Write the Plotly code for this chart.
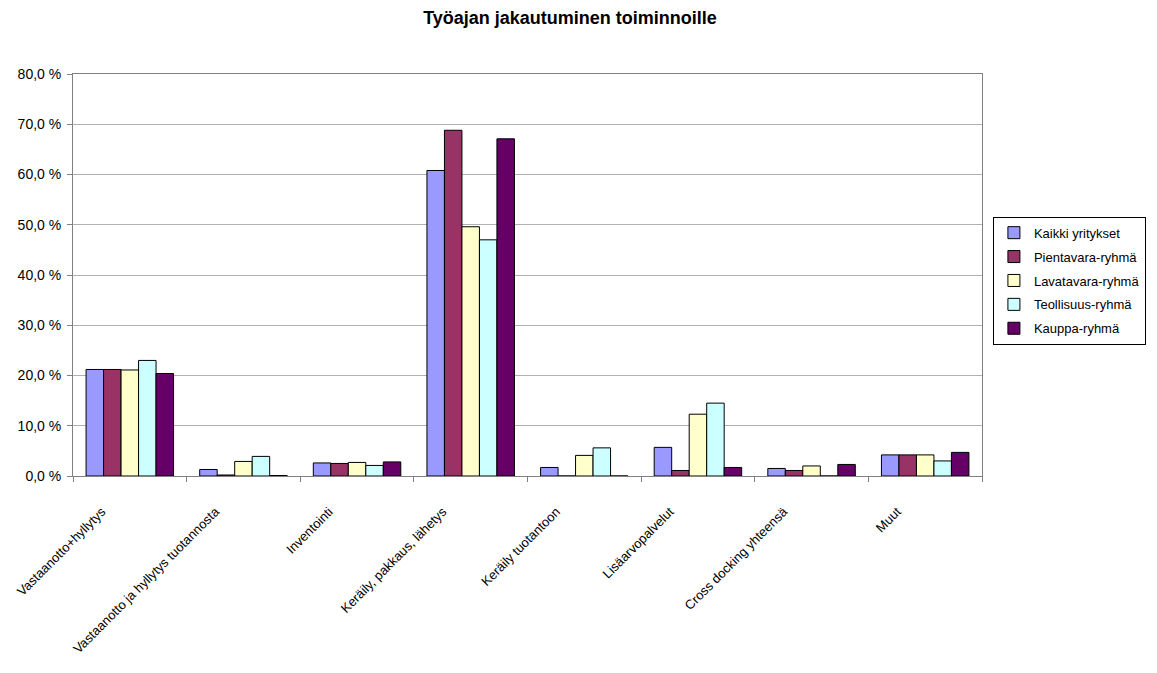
import plotly.graph_objects as go

# Toiminnot (x-akselin luokat)
categories = [
    "Vastaanotto+hyllytys",
    "Vastaanotto ja hyllytys tuotannosta",
    "Inventointi",
    "Keräily, pakkaus, lähetys",
    "Keräily tuotantoon",
    "Lisäarvopalvelut",
    "Cross docking yhteensä",
    "Muut",
]

# Osuus työajasta (%) ryhmittäin
kaikki_yritykset = [21.2, 1.3, 2.6, 60.8, 1.7, 5.7, 1.5, 4.2]
pientavara_ryhma = [21.2, 0.2, 2.5, 68.8, 0.0, 1.1, 1.1, 4.2]
lavatavara_ryhma = [21.1, 2.9, 2.7, 49.6, 4.1, 12.3, 2.0, 4.2]
teollisuus_ryhma = [23.0, 3.9, 2.1, 47.0, 5.6, 14.5, 0.0, 3.0]
kauppa_ryhma = [20.4, 0.1, 2.8, 67.1, 0.0, 1.7, 2.3, 4.7]

series_names = ["Kaikki yritykset", "Pientavara-ryhmä", "Lavatavara-ryhmä",
                "Teollisuus-ryhmä", "Kauppa-ryhmä"]
series_values = [kaikki_yritykset, pientavara_ryhma, lavatavara_ryhma,
                 teollisuus_ryhma, kauppa_ryhma]
series_colors = ["#9999FF", "#993366", "#FFFFCC", "#CCFFFF", "#660066"]

y_tick_values = [0, 10, 20, 30, 40, 50, 60, 70, 80]
y_tick_labels = ["0,0 %", "10,0 %", "20,0 %", "30,0 %", "40,0 %",
                 "50,0 %", "60,0 %", "70,0 %", "80,0 %"]

FONT = "Liberation Sans, Arial, sans-serif"

fig = go.Figure()
for i, (name, vals, col) in enumerate(zip(series_names, series_values, series_colors)):
    fig.add_trace(go.Bar(
        x=categories, y=vals, name=name,
        marker=dict(color=col, line=dict(color="#000000", width=1)),
        legendgroup=f"g{i}",
    ))

fig.update_layout(
    width=1157, height=673,
    paper_bgcolor="white", plot_bgcolor="white",
    barmode="group", bargap=0.23, bargroupgap=0,
    margin=dict(l=73, r=175, t=74, b=197, autoexpand=False),
    title=dict(text="<b>Työajan jakautuminen toiminnoille</b>",
               x=570 / 1157, xref="container", xanchor="center",
               y=1 - 18 / 673, yref="container", yanchor="middle",
               font=dict(family=FONT, size=18, color="#000000")),
    font=dict(family=FONT, color="#000000"),
    legend=dict(
        x=1.012, xanchor="left", y=0.645, yanchor="top",
        bgcolor="white", bordercolor="#000000", borderwidth=1,
        font=dict(family=FONT, size=13, color="#000000"),
        tracegroupgap=4, itemwidth=30,
    ),
    showlegend=True,
)

fig.update_xaxes(
    type="category", tickson="boundaries",
    ticks="outside", ticklen=5, tickcolor="#808080",
    showline=True, linecolor="#808080", linewidth=1, mirror=True,
    tickangle=-45, tickfont=dict(family=FONT, size=13, color="#000000"),
    ticklabelshift=-28, ticklabelstandoff=22,
    showgrid=False,
)
fig.update_yaxes(
    range=[0, 80], tickvals=y_tick_values, ticktext=y_tick_labels,
    ticks="outside", ticklen=5, tickcolor="#808080",
    showline=True, linecolor="#808080", linewidth=1, mirror=True,
    showgrid=True, gridcolor="#b0b0b0", gridwidth=1,
    tickfont=dict(family=FONT, size=14, color="#000000"),
    ticklabelstandoff=3,
    zeroline=False,
)

fig.write_html("out.html")
